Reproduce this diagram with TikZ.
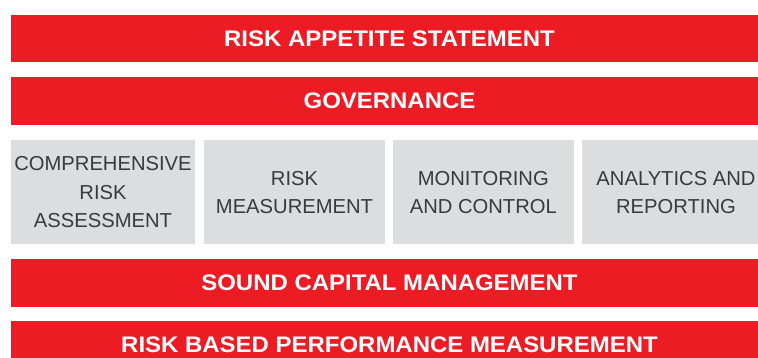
\documentclass[tikz,border=0pt]{standalone}
\usepackage{fontspec}
\usepackage{graphicx}
\setmainfont{Liberation Sans}
\definecolor{riskred}{HTML}{ED1C24}
\definecolor{boxgray}{HTML}{DCDDDE}
\definecolor{txtgray}{HTML}{3A3A3A}
\newcommand{\wbar}[1]{\scalebox{1.065}[1]{#1}}
\begin{document}
\begin{tikzpicture}[x=1pt,y=-1pt,
  redbar/.style={fill=riskred,draw=none},
  graybox/.style={fill=boxgray,draw=none},
  redtext/.style={text=white,font=\bfseries\fontsize{22.5}{26}\selectfont,inner sep=0pt},
  graytext/.style={text=txtgray,font=\fontsize{20.2}{28.5}\selectfont,align=center,inner sep=0pt}]
\useasboundingbox (0,0) rectangle (758,358);
\fill[white] (0,0) rectangle (758,358);
% red bars
\path[redbar] (11,15) rectangle (768,62.3);
\path[redbar] (11,77) rectangle (768,125);
\path[redbar] (11,259) rectangle (768,306.5);
\path[redbar] (11,321.3) rectangle (768,368);
% gray boxes
\path[graybox] (11,140) rectangle (195,244);
\path[graybox] (204,140) rectangle (385,244);
\path[graybox] (393,140) rectangle (573.5,244);
\path[graybox] (582,140) rectangle (770,244);
% red texts
\node[redtext] (ras) at (389.5,38.6) {\wbar{RISK APPETITE STATEMENT}};
\node[redtext] (gov) at (389.5,101) {\wbar{GOVERNANCE}};
\node[redtext] (scm) at (389.5,282.8) {\wbar{SOUND CAPITAL MANAGEMENT}};
\node[redtext] (rbp) at (389.5,344.6) {\wbar{RISK BASED PERFORMANCE MEASUREMENT}};
% gray texts
\node[graytext] (cra) at (103,192.5) {COMPREHENSIVE\\RISK\\ASSESSMENT};
\node[graytext] (rm) at (294.5,192.5) {RISK\\MEASUREMENT};
\node[graytext] (mc) at (483.3,192.5) {MONITORING\\AND CONTROL};
\node[graytext] (ar) at (676,192.5) {ANALYTICS AND\\REPORTING};
\end{tikzpicture}
\end{document}
